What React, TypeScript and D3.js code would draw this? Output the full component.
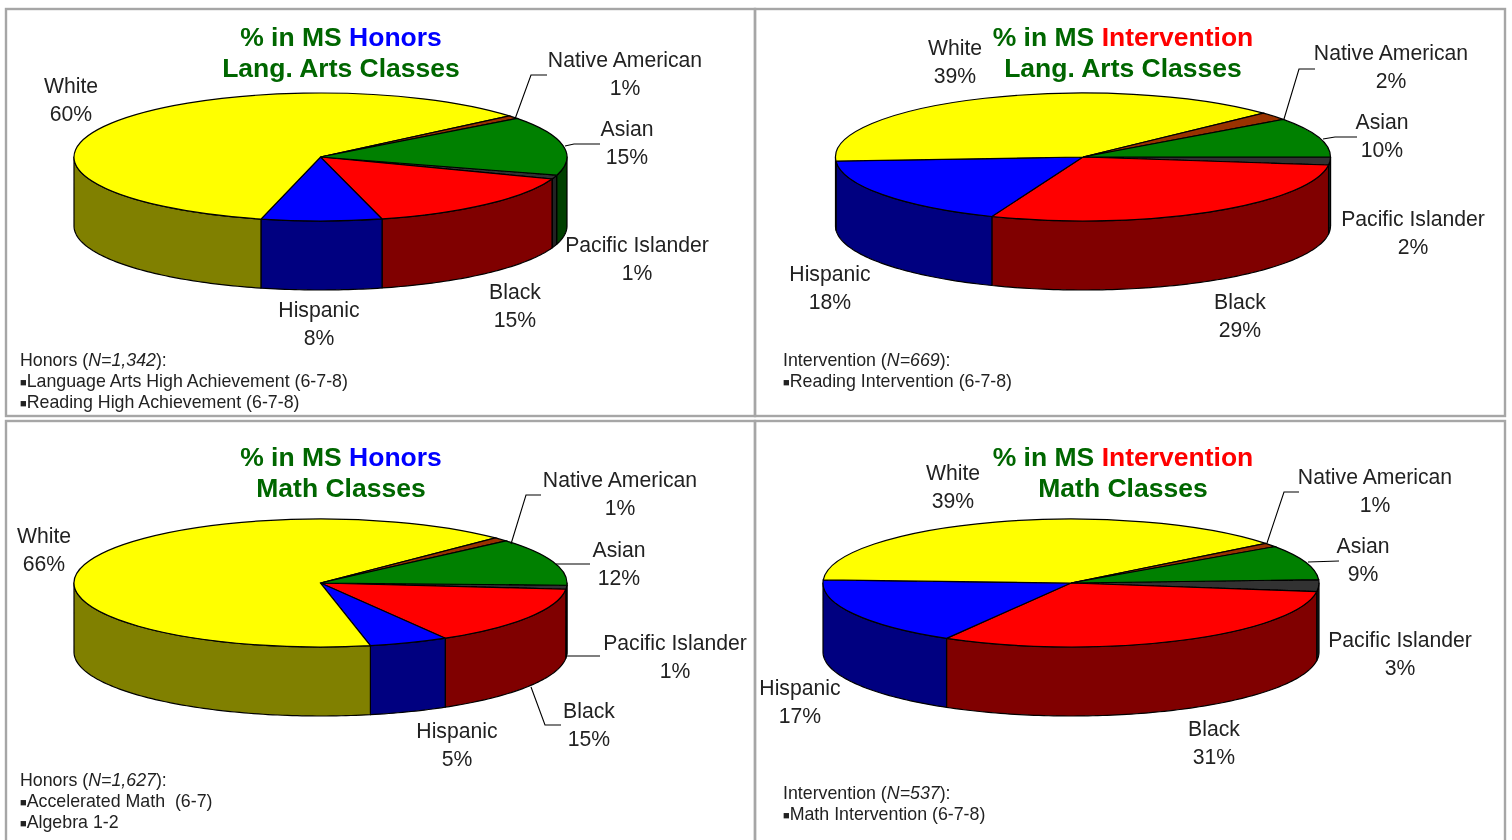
import React from "react";
import * as d3 from "d3";

// ---- data (percent of students, clockwise starting at Pacific Islander) ----
const groups = ["Pacific Islander", "Black", "Hispanic", "White", "Native American", "Asian"];
const honorsLang = [1.0, 15.4, 7.9, 60.0, 0.8, 14.9];
const interventionLang = [2, 29, 18, 39, 2, 10];
const honorsMath = [1, 15, 5.2, 65.8, 1, 12];
const interventionMath = [3, 31.2, 17.4, 38.6, 1, 8.8];

const topColors = ["#333333", "#ff0000", "#0000ff", "#ffff00", "#993300", "#008000"];
const wallColors = ["#222222", "#800000", "#000080", "#808000", "#4d1a00", "#004000"];

const FONT = "'Liberation Sans', Arial, sans-serif";
const GREEN = "#006600";

type Panel = {
  values: number[]; start: number; cx: number; cy: number; rx: number;
  word: string; wordColor: string; line2: string; titleX: number; titleY: number;
  labels: [number, number][]; leaders: [number, number][][];
  noteX: number; noteY: number; head: string; n: string; notes: string[];
};

const RY = 64;
const DEPTH = 69;

const panels: Panel[] = [
  {
    values: honorsLang, start: 16.5, cx: 320.5, cy: 157, rx: 246.5,
    word: "Honors", wordColor: "#0000ff", line2: "Lang. Arts Classes", titleX: 341, titleY: 37,
    labels: [[637, 245], [515, 292], [319, 310], [71, 86], [625, 60], [627, 129]],
    leaders: [[[515, 119], [531, 75], [547, 75]], [[565, 146], [574, 144], [600, 144]]],
    noteX: 20, noteY: 360, head: "Honors", n: "N=1,342",
    notes: ["Language Arts High Achievement (6-7-8)", "Reading High Achievement (6-7-8)"],
  },
  {
    values: interventionLang, start: 0, cx: 1083, cy: 157, rx: 247.5,
    word: "Intervention", wordColor: "#ff0000", line2: "Lang. Arts Classes", titleX: 1123, titleY: 37,
    labels: [[1413, 219], [1240, 302], [830, 274], [955, 48], [1391, 53], [1382, 122]],
    leaders: [[[1284, 119], [1299, 69], [1315, 69]], [[1323, 139], [1335, 137], [1357, 137]]],
    noteX: 783, noteY: 360, head: "Intervention", n: "N=669",
    notes: ["Reading Intervention (6-7-8)"],
  },
  {
    values: honorsMath, start: 2, cx: 320.5, cy: 583, rx: 246.5,
    word: "Honors", wordColor: "#0000ff", line2: "Math Classes", titleX: 341, titleY: 457,
    labels: [[675, 643], [589, 711], [457, 731], [44, 536], [620, 480], [619, 550]],
    leaders: [
      [[511, 544], [526, 495], [541, 495]],
      [[556, 564], [590, 564]],
      [[566, 656], [600, 656]],
      [[531, 687], [545, 725], [561, 725]],
    ],
    noteX: 20, noteY: 780, head: "Honors", n: "N=1,627",
    notes: ["Accelerated Math  (6-7)", "Algebra 1-2"],
  },
  {
    values: interventionMath, start: -3, cx: 1071, cy: 583, rx: 248,
    word: "Intervention", wordColor: "#ff0000", line2: "Math Classes", titleX: 1123, titleY: 457,
    labels: [[1400, 640], [1214, 729], [800, 688], [953, 473], [1375, 477], [1363, 546]],
    leaders: [[[1267, 543], [1284, 492], [1299, 492]], [[1308, 562], [1339, 561]]],
    noteX: 783, noteY: 793, head: "Intervention", n: "N=537",
    notes: ["Math Intervention (6-7-8)"],
  },
];

const frames: [number, number, number, number][] = [
  [6, 9, 749, 407],
  [755, 9, 750, 407],
  [6, 421, 749, 440],
  [755, 421, 750, 440],
];

function Pie({ p }: { p: Panel }) {
  const rad = (d: number) => (d * Math.PI) / 180;
  const sa = rad(90 + p.start);
  const pie = d3.pie<number>().sort(null).startAngle(sa).endAngle(sa + 2 * Math.PI);
  const slices = pie(p.values);
  const arc = d3.arc<d3.PieArcDatum<number>>().innerRadius(0).outerRadius(p.rx);
  const xAt = (a: number) => p.cx + p.rx * Math.sin(a);
  const yAt = (a: number) => p.cy - RY * Math.cos(a);
  const line = d3.line<[number, number]>();

  const wall = (d: d3.PieArcDatum<number>) => {
    // the south half of the rim is what can be seen; test it and the next turn
    const segs: string[] = [];
    for (const k of [0, 2 * Math.PI]) {
      const a0 = Math.max(d.startAngle, Math.PI / 2 + k);
      const a1 = Math.min(d.endAngle, (3 * Math.PI) / 2 + k);
      if (a1 <= a0) continue;
      const n = Math.max(2, Math.ceil((a1 - a0) / 0.02));
      const as = d3.range(n + 1).map((i) => a0 + ((a1 - a0) * i) / n);
      const pts: [number, number][] = [
        ...as.map((a) => [xAt(a), yAt(a)] as [number, number]),
        ...as.slice().reverse().map((a) => [xAt(a), yAt(a) + DEPTH] as [number, number]),
      ];
      segs.push(line(pts) + "Z");
    }
    return segs.join("");
  };

  return (
    <g>
      {slices.map((d, i) => (
        <path key={"w" + i} d={wall(d)} fill={wallColors[i]} stroke="#000" strokeWidth={1.2} strokeLinejoin="round" />
      ))}
      <g transform={`translate(${p.cx},${p.cy}) scale(1,${RY / p.rx})`}>
        {slices.map((d, i) => (
          <path key={"t" + i} d={arc(d) as string} fill={topColors[i]} stroke="#000" strokeWidth={1.2} vectorEffect="non-scaling-stroke" />
        ))}
      </g>
      {p.leaders.map((l, i) => (
        <path key={"l" + i} d={line(l) as string} fill="none" stroke="#000" strokeWidth={1.1} />
      ))}
      {groups.map((g, i) => (
        <g key={g} fontFamily={FONT} fontSize={21.2} fill="#222" textAnchor="middle">
          <text x={p.labels[i][0]} y={p.labels[i][1] + 7}>{g}</text>
          <text x={p.labels[i][0]} y={p.labels[i][1] + 35}>{Math.round(p.values[i])}%</text>
        </g>
      ))}
      <g fontFamily={FONT} fontSize={26.5} fontWeight="bold" fill={GREEN} textAnchor="middle">
        <text x={p.titleX} y={p.titleY + 9}>% in MS <tspan fill={p.wordColor}>{p.word}</tspan></text>
        <text x={p.titleX} y={p.titleY + 40}>{p.line2}</text>
      </g>
      <g fontFamily={FONT} fontSize={17.8} fill="#222">
        <text x={p.noteX} y={p.noteY + 6}>{p.head} (<tspan fontStyle="italic">{p.n}</tspan>):</text>
        {p.notes.map((t, i) => (
          <text key={t} x={p.noteX} y={p.noteY + 6 + 21 * (i + 1)} xmlSpace="preserve">
            <tspan fontSize={11} dy={-1}>■</tspan><tspan dy={1}>{t}</tspan>
          </text>
        ))}
      </g>
    </g>
  );
}

export default function App() {
  return (
    <svg width={1512} height={840} style={{ position: "fixed", left: 0, top: 0, background: "#fff" }}>
      <defs>
        <filter id="soft" x="0" y="0" width="100%" height="100%">
          <feGaussianBlur stdDeviation={0.45} />
        </filter>
      </defs>
      <rect width={1512} height={840} fill="#fff" />
      <g filter="url(#soft)">
        <rect width={1512} height={840} fill="#fff" />
        {frames.map((f, i) => (
          <rect key={i} x={f[0]} y={f[1]} width={f[2]} height={f[3]} fill="none" stroke="#a6a6a6" strokeWidth={2.4} />
        ))}
        {panels.map((p) => (
          <Pie key={p.cx + "-" + p.cy} p={p} />
        ))}
      </g>
    </svg>
  );
}
